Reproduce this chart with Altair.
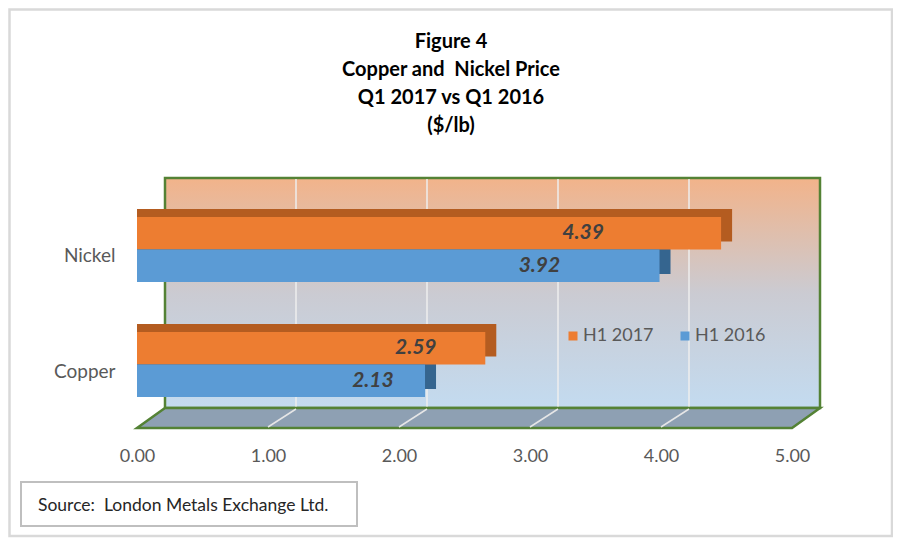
import altair as alt
import pandas as pd

# ---------------- data ----------------
categories = ["Nickel", "Copper"]
series = ["H1 2017", "H1 2016"]
h1_2017 = [4.39, 2.59]
h1_2016 = [3.92, 2.13]
tick_values = [0, 1, 2, 3, 4, 5]
grid_values = [1, 2, 3, 4]
title_lines = ["Figure 4", "Copper and\u00a0 Nickel Price", "Q1 2017 vs Q1 2016", "($/lb)"]
source_text = "Source:\u00a0 London Metals Exchange Ltd."

# ---------------- layout / style constants ----------------
W, H = 655, 230            # front (floor-edge) plane of the plot area
WALL_DX, WALL_DY = 28, -20  # depth offset of the back wall
BAR_DX = 9                 # bar front plane offset
BAR_DEPTH_DX, BAR_DEPTH_DY = 11, -8
FONT = "Lato"
GREEN = "#548235"
ORANGE, BLUE = "#ED7D31", "#5B9BD5"
ORANGE_D, BLUE_D = "#B45C20", "#35658F"
GREY_TXT = "#595959"

d_units = WALL_DX / (W / 5.0)

bars = pd.DataFrame({
    "category": categories * 2,
    "series": [series[0]] * 2 + [series[1]] * 2,
    "value": h1_2017 + h1_2016,
})

xscale = alt.Scale(domain=[0, 5], nice=False, zero=True)
x_axis = alt.Axis(values=tick_values, format=".2f", title=None)
ybase = dict(field="category", type="nominal", sort=categories)
yoff = alt.YOffset("series:N", sort=series, scale=alt.Scale(domain=series, paddingInner=0))
color = alt.Color("series:N", sort=series,
                  scale=alt.Scale(domain=series, range=[ORANGE, BLUE]),
                  legend=alt.Legend(title=None, orient="none", direction="horizontal",
                                    legendX=427, legendY=129, symbolType="square",
                                    symbolSize=81, symbolStrokeWidth=0, symbolOpacity=1,
                                    labelFont=FONT, labelFontSize=18, labelColor=GREY_TXT,
                                    labelOffset=1, columnPadding=22, padding=0))

one = pd.DataFrame({"k": [0]})

# outer frame
frame = alt.Chart(one).mark_rect(
    fill="transparent", stroke="#D9D9D9", strokeWidth=2.5
).encode(x=alt.value(-127.5), x2=alt.value(755), y=alt.value(-188.5), y2=alt.value(338))

# title (four centred lines)
title = alt.Chart(one).mark_text(
    align="center", baseline="alphabetic", font=FONT, fontSize=20, fontWeight="bold",
    color="#000000", lineHeight=28
).encode(x=alt.value(314), y=alt.value(-150), text=alt.value(title_lines))

# source box + text
src_box = alt.Chart(one).mark_rect(
    fill="transparent", stroke="#BFBFBF", strokeWidth=2
).encode(x=alt.value(-116), x2=alt.value(220), y=alt.value(284), y2=alt.value(328))
src_txt = alt.Chart(pd.DataFrame({"t": [source_text]})).mark_text(
    align="left", baseline="alphabetic", font=FONT, fontSize=17.5, color="#262626"
).encode(x=alt.value(-99), y=alt.value(313), text="t:N")

# back wall
gradient = alt.LinearGradient(
    gradient="linear", x1=0, x2=0, y1=0, y2=1,
    stops=[alt.GradientStop(color="#F2B38A", offset=0),
           alt.GradientStop(color="#CBCBD2", offset=0.5),
           alt.GradientStop(color="#C3DBF0", offset=1)])
wall = alt.Chart(one).mark_rect(
    fill=gradient, stroke=GREEN, strokeWidth=2.5, xOffset=WALL_DX, x2Offset=WALL_DX
).encode(x=alt.X(datum=0, scale=xscale, axis=x_axis), x2=alt.X2(datum=5),
         y=alt.value(WALL_DY), y2=alt.value(H + WALL_DY))

wall_grid = alt.Chart(pd.DataFrame({"t": grid_values})).mark_rule(
    color="#EEEEEE", strokeWidth=1.5, xOffset=WALL_DX
).encode(x=alt.X("t:Q", scale=xscale, axis=x_axis),
         y=alt.value(WALL_DY + 1), y2=alt.value(H + WALL_DY))

# floor
floor_df = pd.DataFrame({
    "fx": [0, d_units, 5, 5 + d_units],
    "fy": [H, H + WALL_DY, H + WALL_DY, H + WALL_DY],
    "fy2": [H, H, H, H + WALL_DY],
})
floor = alt.Chart(floor_df).mark_area(
    color="#8EA0B3", stroke=GREEN, strokeWidth=2.5, opacity=1
).encode(x=alt.X("fx:Q", scale=xscale, axis=x_axis),
         y=alt.Y("fy:Q", scale=None, axis=None), y2="fy2:Q")

floor_grid = alt.Chart(pd.DataFrame({"t": grid_values})).transform_calculate(
    t2=f"datum.t + {d_units}"
).mark_rule(color="#E6E6E6", strokeWidth=1.5).encode(
    x=alt.X("t:Q", scale=xscale, axis=x_axis), x2="t2:Q",
    y=alt.value(H - 1), y2=alt.value(H + WALL_DY + 1))

# bars: depth (shadow) + front face
shadow = alt.Chart(bars).mark_bar(
    xOffset=BAR_DX + BAR_DEPTH_DX, x2Offset=BAR_DX + BAR_DEPTH_DX
).encode(
    x=alt.X("value:Q", scale=xscale, axis=x_axis, stack=None),
    y=alt.Y(**ybase, scale=alt.Scale(range=[19 + BAR_DEPTH_DY, 199 + BAR_DEPTH_DY],
                                     paddingInner=0.435, paddingOuter=0), axis=None),
    yOffset=yoff,
    color=alt.Color("series:N", sort=series,
                    scale=alt.Scale(domain=series, range=[ORANGE_D, BLUE_D]), legend=None),
)

front = alt.Chart(bars).mark_bar(xOffset=BAR_DX, x2Offset=BAR_DX).encode(
    x=alt.X("value:Q", scale=xscale, stack=None, axis=x_axis),
    y=alt.Y(**ybase, scale=alt.Scale(range=[19, 199], paddingInner=0.435, paddingOuter=0),
            axis=alt.Axis(title=None, labelFontSize=19, labelPadding=22, labelOffset=7)),
    yOffset=yoff,
    color=color,
)

labels = alt.Chart(bars).transform_calculate(
    lx="datum.value * 0.71 + 0.22"
).mark_text(
    xOffset=BAR_DX, font=FONT, fontSize=21, fontWeight="bold", fontStyle="italic",
    color="#404040", align="center", baseline="middle"
).encode(
    x=alt.X("lx:Q", scale=xscale, axis=x_axis),
    y=alt.Y(**ybase, scale=alt.Scale(range=[19, 199], paddingInner=0.435, paddingOuter=0),
            axis=None),
    yOffset=yoff,
    text=alt.Text("value:Q", format=".2f"),
)

chart = alt.layer(
    frame, title, src_box, src_txt, wall, wall_grid, floor, floor_grid, shadow, front, labels
).resolve_scale(
    y="independent", yOffset="independent", color="independent"
).properties(
    width=W, height=H, background="white",
    autosize=alt.AutoSizeParams(type="none"),
    padding={"left": 129, "top": 190, "right": 101, "bottom": 110},
).configure_view(
    stroke=None
).configure_axis(
    domain=False, ticks=False, grid=False, labelFont=FONT, labelColor=GREY_TXT, zindex=1
).configure_axisX(
    labelFontSize=18, labelPadding=19, labelFlush=False
)

chart.save("out.html", embed_options={"renderer": "svg", "actions": False})
